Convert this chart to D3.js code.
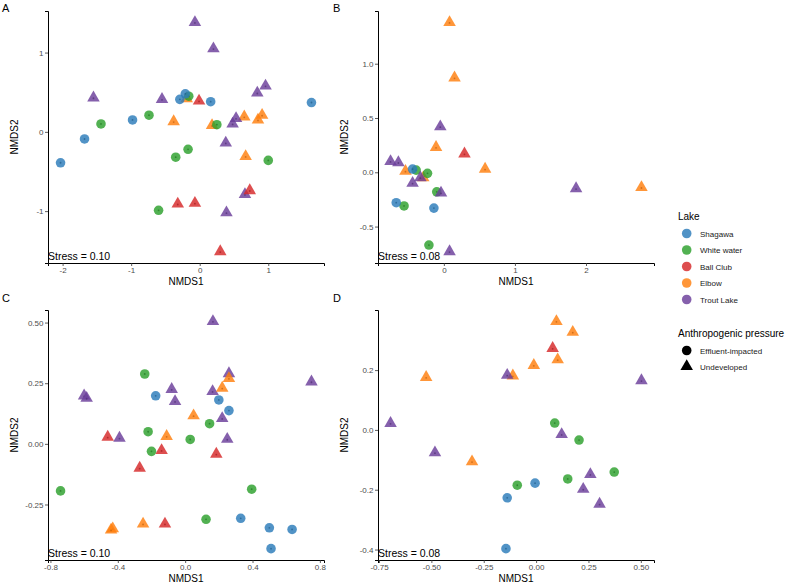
<!DOCTYPE html>
<html>
<head>
<meta charset="utf-8">
<script src="https://cdn.jsdelivr.net/npm/d3@7"></script>
<style>
  body { margin: 0; background: #fff; }
  svg { display: block; font-family: "Liberation Sans", Arial, sans-serif; }
</style>
</head>
<body>
<svg id="chart" width="788" height="585"></svg>
<script>
// ---------- data ----------
const lakes = ["Shagawa", "White water", "Ball Club", "Elbow", "Trout Lake"];
const lakeColors = ["#2b7bba", "#2ca02c", "#d62728", "#ff7f0e", "#6a3d9a"];
const pressures = ["Effluent-impacted", "Undeveloped"];
const lakePressure = ["Effluent-impacted", "Effluent-impacted", "Undeveloped", "Undeveloped", "Undeveloped"];

const panelLabels = ["A", "B", "C", "D"];
const stressLabels = ["Stress = 0.10", "Stress = 0.08", "Stress = 0.10", "Stress = 0.08"];

const ticksAx = [-2, -1, 0, 1];
const ticksAy = [-1, 0, 1];
const ticksBx = [0, 1, 2];
const ticksBy = [-0.5, 0.0, 0.5, 1.0];
const ticksCx = [-0.8, -0.4, 0.0, 0.4, 0.8];
const ticksCy = [-0.25, 0.0, 0.25, 0.5];
const ticksDx = [-0.75, -0.5, -0.25, 0.0, 0.25, 0.5];
const ticksDy = [-0.4, -0.2, 0.0, 0.2];

// rows: [lake, NMDS1, NMDS2]
const panelA = [
  ["Elbow", -0.19, 0.42],
  ["Elbow", -0.38, 0.13],
  ["Elbow", 0.18, 0.08],
  ["Elbow", 0.65, 0.19],
  ["Elbow", 0.85, 0.15],
  ["Elbow", 0.91, 0.21],
  ["Elbow", 0.67, -0.31],
  ["Trout Lake", -0.07, 1.38],
  ["Trout Lake", 0.20, 1.05],
  ["Trout Lake", -1.55, 0.43],
  ["Trout Lake", -0.55, 0.41],
  ["Trout Lake", 0.53, 0.17],
  ["Trout Lake", 0.48, 0.10],
  ["Trout Lake", 0.96, 0.58],
  ["Trout Lake", 0.84, 0.49],
  ["Trout Lake", 0.38, -0.14],
  ["Trout Lake", 0.66, -0.79],
  ["Trout Lake", 0.39, -1.02],
  ["Ball Club", -0.01, 0.39],
  ["Ball Club", -0.32, -0.91],
  ["Ball Club", -0.07, -0.90],
  ["Ball Club", 0.73, -0.74],
  ["Ball Club", 0.30, -1.51],
  ["White water", -1.44, 0.10],
  ["White water", -0.74, 0.21],
  ["White water", -0.16, 0.45],
  ["White water", 0.25, 0.09],
  ["White water", -0.35, -0.32],
  ["White water", -0.17, -0.22],
  ["White water", 1.00, -0.36],
  ["White water", -0.60, -0.99],
  ["Shagawa", -2.03, -0.39],
  ["Shagawa", -1.68, -0.09],
  ["Shagawa", -0.98, 0.15],
  ["Shagawa", -0.29, 0.41],
  ["Shagawa", -0.21, 0.48],
  ["Shagawa", 0.16, 0.38],
  ["Shagawa", 1.63, 0.37]
];

const panelB = [
  ["Elbow", 0.08, 1.38],
  ["Elbow", 0.15, 0.87],
  ["Elbow", -0.11, 0.23],
  ["Elbow", -0.54, 0.01],
  ["Elbow", 0.58, 0.03],
  ["Elbow", 2.78, -0.14],
  ["Elbow", -0.29, -0.05],
  ["Ball Club", 0.29, 0.17],
  ["White water", -0.39, 0.02],
  ["White water", -0.23, -0.01],
  ["White water", -0.10, -0.18],
  ["White water", -0.56, -0.31],
  ["White water", -0.21, -0.67],
  ["Shagawa", -0.44, 0.03],
  ["Shagawa", -0.67, -0.28],
  ["Shagawa", -0.14, -0.33],
  ["Trout Lake", -0.05, 0.42],
  ["Trout Lake", -0.75, 0.10],
  ["Trout Lake", -0.64, 0.09],
  ["Trout Lake", -0.44, -0.10],
  ["Trout Lake", -0.33, -0.05],
  ["Trout Lake", -0.04, -0.19],
  ["Trout Lake", 1.86, -0.15],
  ["Trout Lake", 0.08, -0.73]
];

const panelC = [
  ["Trout Lake", 0.165, 0.505],
  ["Trout Lake", 0.26, 0.29],
  ["Trout Lake", 0.75, 0.256],
  ["Trout Lake", -0.60, 0.198],
  ["Trout Lake", -0.585, 0.188],
  ["Trout Lake", -0.08, 0.225],
  ["Trout Lake", -0.06, 0.175],
  ["Trout Lake", 0.163, 0.216],
  ["Trout Lake", 0.22, 0.105],
  ["Trout Lake", 0.25, 0.019],
  ["Trout Lake", -0.39, 0.024],
  ["Elbow", 0.26, 0.27],
  ["Elbow", 0.22, 0.23],
  ["Elbow", 0.05, 0.116],
  ["Elbow", -0.11, 0.031],
  ["Elbow", -0.43, -0.35],
  ["Elbow", -0.44, -0.355],
  ["Elbow", -0.25, -0.33],
  ["Ball Club", -0.46, 0.028],
  ["Ball Club", -0.14, -0.027],
  ["Ball Club", -0.27, -0.10],
  ["Ball Club", 0.185, -0.042],
  ["Ball Club", -0.12, -0.33],
  ["White water", -0.24, 0.288],
  ["White water", -0.22, 0.05],
  ["White water", -0.20, -0.031],
  ["White water", 0.03, 0.018],
  ["White water", 0.145, 0.083],
  ["White water", -0.74, -0.194],
  ["White water", 0.395, -0.187],
  ["White water", 0.124, -0.311],
  ["Shagawa", -0.175, 0.198],
  ["Shagawa", 0.20, 0.181],
  ["Shagawa", 0.26, 0.137],
  ["Shagawa", 0.33, -0.307],
  ["Shagawa", 0.50, -0.346],
  ["Shagawa", 0.635, -0.353],
  ["Shagawa", 0.51, -0.432]
];

const panelD = [
  ["Elbow", 0.097, 0.363],
  ["Elbow", 0.175, 0.327],
  ["Elbow", 0.103, 0.235],
  ["Elbow", -0.011, 0.216],
  ["Elbow", -0.111, 0.181],
  ["Elbow", -0.525, 0.176],
  ["Elbow", -0.306, -0.106],
  ["Ball Club", 0.079, 0.273],
  ["Trout Lake", -0.138, 0.183],
  ["Trout Lake", 0.503, 0.165],
  ["Trout Lake", -0.695, 0.022],
  ["Trout Lake", -0.483, -0.076],
  ["Trout Lake", 0.122, -0.015],
  ["Trout Lake", 0.259, -0.149],
  ["Trout Lake", 0.225, -0.198],
  ["Trout Lake", 0.303, -0.248],
  ["White water", 0.089, 0.023],
  ["White water", 0.205, -0.034],
  ["White water", 0.373, -0.141],
  ["White water", 0.151, -0.164],
  ["White water", -0.090, -0.185],
  ["Shagawa", -0.005, -0.178],
  ["Shagawa", -0.138, -0.227],
  ["Shagawa", -0.144, -0.397]
];

// ---------- drawing ----------
const svg = d3.select("#chart");
const color = d3.scaleOrdinal().domain(lakes).range(lakeColors);
const shapeOf = d3.scaleOrdinal().domain(pressures).range([d3.symbolCircle, d3.symbolTriangle]);
const pressureOf = d3.scaleOrdinal().domain(lakes).range(lakePressure);

const panels = [
  { data: panelA, tx: ticksAx, ty: ticksAy, fx: d3.format("d"), fy: d3.format("d"),
    left: 48, right: 324, top: 11, bottom: 263, lx: 2, ly: 12 },
  { data: panelB, tx: ticksBx, ty: ticksBy, fx: d3.format("d"), fy: d3.format(".1f"),
    left: 378, right: 654, top: 11, bottom: 263, lx: 333, ly: 12 },
  { data: panelC, tx: ticksCx, ty: ticksCy, fx: d3.format(".1f"), fy: d3.format(".2f"),
    left: 48, right: 324, top: 310, bottom: 560, lx: 2, ly: 302 },
  { data: panelD, tx: ticksDx, ty: ticksDy, fx: d3.format(".2f"), fy: d3.format(".1f"),
    left: 378, right: 654, top: 310, bottom: 560, lx: 333, ly: 302 }
];

function expand(ext) {
  const pad = (ext[1] - ext[0]) * 0.05;
  return [ext[0] - pad, ext[1] + pad];
}
const minus = s => s.replace("−", "-");

panels.forEach((p, i) => {
  const x = d3.scaleLinear().domain(expand(d3.extent(p.data, d => d[1]))).range([p.left, p.right]);
  const y = d3.scaleLinear().domain(expand(d3.extent(p.data, d => d[2]))).range([p.bottom, p.top]);

  const g = svg.append("g");

  // x axis
  const gx = g.append("g").attr("transform", `translate(0,${p.bottom})`)
    .call(d3.axisBottom(x).tickValues(p.tx).tickSize(3).tickPadding(1.5).tickFormat(v => minus(p.fx(v))));
  const gy = g.append("g").attr("transform", `translate(${p.left},0)`)
    .call(d3.axisLeft(y).tickValues(p.ty).tickSize(3).tickPadding(1.5).tickFormat(v => minus(p.fy(v))));
  [gx, gy].forEach(a => {
    a.select(".domain").attr("stroke", "#000").attr("stroke-width", 1);
    a.selectAll(".tick line").attr("stroke", "#333").attr("stroke-width", 0.8);
    a.selectAll(".tick text").attr("fill", "#4d4d4d").attr("font-size", 8)
      .attr("font-family", "Liberation Sans, Arial, sans-serif");
  });

  // points
  g.append("g").selectAll("g.pt").data(p.data).join("g")
    .attr("transform", d => `translate(${x(d[1])},${y(d[2])})`)
    .each(function(d) {
      const sh = shapeOf(pressureOf(d[0]));
      const el = d3.select(this);
      el.append("path")
        .attr("d", d3.symbol().type(sh).size(sh === d3.symbolCircle ? 72 : 68)())
        .attr("fill", color(d[0])).attr("fill-opacity", 0.82);
      el.append("circle").attr("r", 0.9).attr("cy", sh === d3.symbolCircle ? 0 : 0.5)
        .attr("fill", d3.color(color(d[0])).darker(0.8)).attr("fill-opacity", 0.7);
    });

  // stress annotation
  g.append("text").attr("x", p.left).attr("y", p.bottom - 3.5)
    .attr("font-size", 10.5).attr("fill", "#000").text(stressLabels[i]);

  // axis titles
  g.append("text").attr("x", (p.left + p.right) / 2).attr("y", p.bottom + 22)
    .attr("text-anchor", "middle").attr("font-size", 10).attr("fill", "#000").text("NMDS1");
  g.append("text")
    .attr("transform", `translate(${p.left - 30},${(p.top + p.bottom) / 2}) rotate(-90)`)
    .attr("text-anchor", "middle").attr("font-size", 10).attr("fill", "#000").text("NMDS2");

  // panel tag
  g.append("text").attr("x", p.lx).attr("y", p.ly).attr("font-size", 11)
    .attr("fill", "#000").text(panelLabels[i]);
});

// ---------- legends ----------
const leg = svg.append("g");
leg.append("text").attr("x", 678).attr("y", 219.5).attr("font-size", 10).attr("fill", "#000").text("Lake");
const lakeY = d3.scalePoint().domain(lakes).range([233.5, 299.5]);
lakes.forEach(l => {
  leg.append("path").attr("transform", `translate(686.7,${lakeY(l)})`)
    .attr("d", d3.symbol().type(d3.symbolCircle).size(72)())
    .attr("fill", color(l)).attr("fill-opacity", 0.82);
  leg.append("text").attr("x", 700).attr("y", lakeY(l) + 3).attr("font-size", 8)
    .attr("fill", "#1a1a1a").text(l);
});

leg.append("text").attr("x", 678).attr("y", 336.5).attr("font-size", 10).attr("fill", "#000").text("Anthropogenic pressure");
const presY = d3.scalePoint().domain(pressures).range([350.5, 366.5]);
pressures.forEach(pr => {
  const sh = shapeOf(pr);
  leg.append("path").attr("transform", `translate(686.7,${presY(pr)})`)
    .attr("d", d3.symbol().type(sh).size(sh === d3.symbolCircle ? 72 : 68)())
    .attr("fill", "#000");
  leg.append("text").attr("x", 700).attr("y", presY(pr) + 3).attr("font-size", 8)
    .attr("fill", "#1a1a1a").text(pr);
});
</script>
</body>
</html>
